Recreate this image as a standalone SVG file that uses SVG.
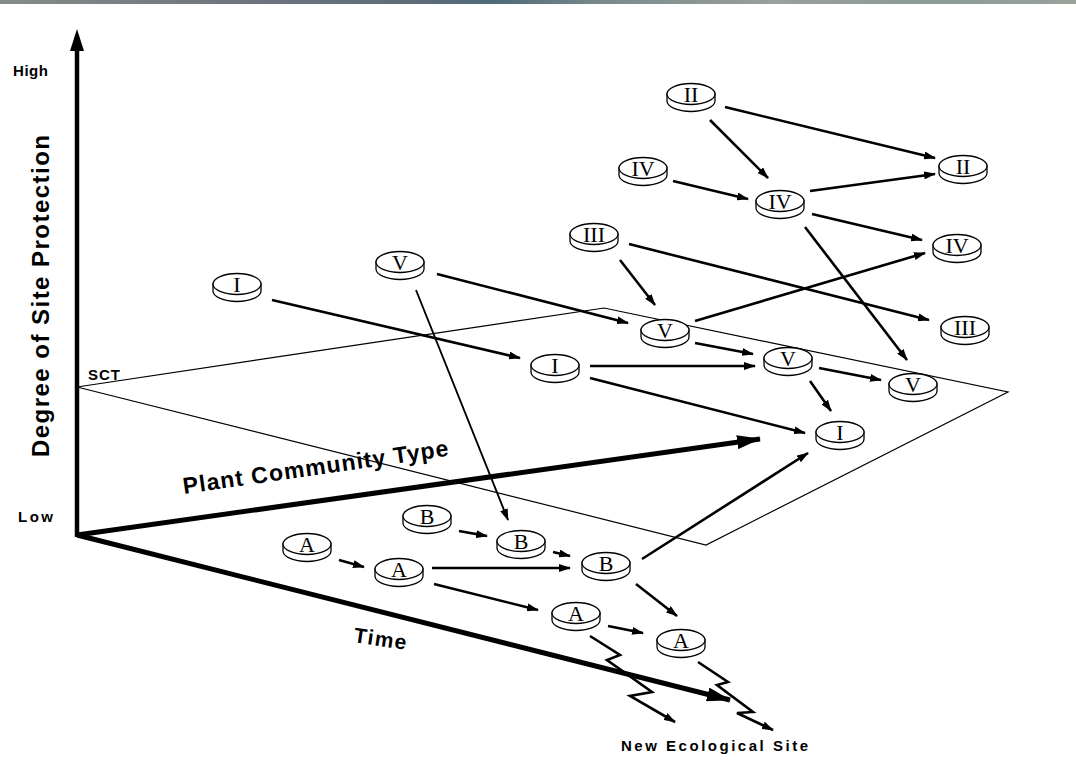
<svg xmlns="http://www.w3.org/2000/svg" xmlns:xlink="http://www.w3.org/1999/xlink" width="1076" height="782" viewBox="0 0 1076 782">
<style>
.lbl{font-family:"Liberation Sans",Arial,sans-serif;font-weight:bold;fill:#000}
.nt{font-family:"Liberation Serif","Times New Roman",serif;font-size:22px;text-anchor:middle;fill:#000}
.c{stroke:#000;stroke-width:2.6;fill:none;marker-end:url(#ah)}
.thin{stroke-width:1.9}
.plane{stroke:#000;stroke-width:1.2;fill:none}
.axis{stroke:#000;stroke-width:5;fill:none}
.coin{fill:#fff;stroke:#000;stroke-width:1.3}
</style>
<defs>
<linearGradient id="bar" x1="0" y1="0" x2="1" y2="0">
<stop offset="0" stop-color="#838d88"/>
<stop offset="0.2" stop-color="#707780"/>
<stop offset="0.4" stop-color="#5c6b79"/>
<stop offset="0.46" stop-color="#4d6b78"/>
<stop offset="0.56" stop-color="#7a8a8c"/>
<stop offset="0.72" stop-color="#98a19c"/>
<stop offset="0.86" stop-color="#8c9a98"/>
<stop offset="1" stop-color="#97a29a"/>
</linearGradient>
<marker id="ah" viewBox="0 0 12 8" refX="11" refY="4" markerWidth="12" markerHeight="8" markerUnits="userSpaceOnUse" orient="auto">
<path d="M0,0 L12,4 L0,8 z" fill="#000"/>
</marker>
<marker id="big" viewBox="0 0 24 14" refX="23" refY="7" markerWidth="24" markerHeight="14" markerUnits="userSpaceOnUse" orient="auto">
<path d="M0,0 L24,7 L0,14 z" fill="#000"/>
</marker>
<g id="coin">
<path class="coin" d="M-24,0 L-24,7 A24 10.5 0 0 0 24,7 L24,0 z"/>
<ellipse class="coin" cx="0" cy="0" rx="24" ry="10.5"/>
</g>
</defs>
<rect x="0" y="0" width="1076" height="782" fill="#fff"/>
<rect x="0" y="0" width="1076" height="4" fill="url(#bar)"/>

<g id="plane">
<path class="plane" d="M77,387 L604,308 L1008,392 L706,545 Z"/>
</g>

<g id="axes">
<line x1="77" y1="537" x2="77" y2="48" stroke="#000" stroke-width="4.5"/>
<polygon points="77,29 70,51 84,51" fill="#000"/>
<line class="axis" x1="77" y1="535" x2="760" y2="439" marker-end="url(#big)"/>
<line class="axis" x1="77" y1="535" x2="730" y2="700" marker-end="url(#big)"/>
</g>

<g id="labels">
<text class="lbl" x="13" y="76" font-size="15" textLength="35">High</text>
<text class="lbl" x="18" y="522" font-size="15" textLength="35">Low</text>
<text class="lbl" x="88" y="380" font-size="15" textLength="32">SCT</text>
<text class="lbl" font-size="24" textLength="322" transform="translate(49,457) rotate(-90)">Degree of Site Protection</text>
<text class="lbl" font-size="23" textLength="268" transform="translate(184,494) rotate(-8.2)">Plant Community Type</text>
<text class="lbl" font-size="21" textLength="53" transform="translate(353,642) rotate(8.5)">Time</text>
<text class="lbl" x="621" y="751" font-size="15" textLength="187">New Ecological Site</text>
</g>

<g id="connectors">
<line class="c" x1="272" y1="300" x2="520" y2="358"/>
<line class="c" x1="437" y1="274" x2="628" y2="323"/>
<line class="c thin" x1="416" y1="290" x2="508" y2="520"/>
<line class="c" x1="725" y1="107" x2="935" y2="158"/>
<line class="c" x1="710" y1="120" x2="768" y2="178"/>
<line class="c" x1="673" y1="181" x2="748" y2="199"/>
<line class="c" x1="810" y1="191" x2="935" y2="174"/>
<line class="c" x1="812" y1="214" x2="922" y2="240"/>
<line class="c" x1="805" y1="227" x2="907" y2="360"/>
<line class="c" x1="620" y1="260" x2="655" y2="305"/>
<line class="c" x1="629" y1="244" x2="929" y2="320"/>
<line class="c" x1="695" y1="321" x2="925" y2="253"/>
<line class="c" x1="695" y1="343" x2="753" y2="354"/>
<line class="c" x1="590" y1="366" x2="755" y2="366"/>
<line class="c" x1="590" y1="378" x2="805" y2="433"/>
<line class="c" x1="819" y1="368" x2="881" y2="380"/>
<line class="c" x1="810" y1="381" x2="831" y2="411"/>
<line class="c" x1="642" y1="559" x2="808" y2="453"/>
<line class="c" x1="459" y1="531" x2="487" y2="536"/>
<line class="c" x1="339" y1="560" x2="364" y2="567"/>
<line class="c" x1="553" y1="552" x2="570" y2="556"/>
<line class="c" x1="432" y1="568" x2="570" y2="568"/>
<line class="c" x1="434" y1="584" x2="538" y2="610"/>
<line class="c" x1="636" y1="584" x2="677" y2="616"/>
<line class="c" x1="608" y1="626" x2="643" y2="633"/>
<polyline class="c" points="590,636 620,655 607,660 652,692 630,696 675,722"/>
<polyline class="c" points="698,662 728,682 717,685 753,712 737,713 773,730"/>
</g>

<g id="n-I1" transform="translate(237,284)"><use xlink:href="#coin"/><text class="nt" y="7.5">I</text></g>
<g id="n-V1" transform="translate(400,262)"><use xlink:href="#coin"/><text class="nt" y="7.5">V</text></g>
<g id="n-II1" transform="translate(691,94)"><use xlink:href="#coin"/><text class="nt" y="7.5">II</text></g>
<g id="n-II2" transform="translate(963,166)"><use xlink:href="#coin"/><text class="nt" y="7.5">II</text></g>
<g id="n-IV1" transform="translate(643,168)"><use xlink:href="#coin"/><text class="nt" y="7.5">IV</text></g>
<g id="n-IV2" transform="translate(780,201)"><use xlink:href="#coin"/><text class="nt" y="7.5">IV</text></g>
<g id="n-IV3" transform="translate(957,245)"><use xlink:href="#coin"/><text class="nt" y="7.5">IV</text></g>
<g id="n-III1" transform="translate(594,234)"><use xlink:href="#coin"/><text class="nt" y="7.5">III</text></g>
<g id="n-III2" transform="translate(965,327)"><use xlink:href="#coin"/><text class="nt" y="7.5">III</text></g>
<g id="n-V2" transform="translate(665,330)"><use xlink:href="#coin"/><text class="nt" y="7.5">V</text></g>
<g id="n-I2" transform="translate(555,365)"><use xlink:href="#coin"/><text class="nt" y="7.5">I</text></g>
<g id="n-V3" transform="translate(788,358)"><use xlink:href="#coin"/><text class="nt" y="7.5">V</text></g>
<g id="n-V4" transform="translate(913,384)"><use xlink:href="#coin"/><text class="nt" y="7.5">V</text></g>
<g id="n-I3" transform="translate(840,432)"><use xlink:href="#coin"/><text class="nt" y="7.5">I</text></g>
<g id="n-B1" transform="translate(427,516)"><use xlink:href="#coin"/><text class="nt" y="7.5">B</text></g>
<g id="n-B2" transform="translate(521,541)"><use xlink:href="#coin"/><text class="nt" y="7.5">B</text></g>
<g id="n-B3" transform="translate(606,563)"><use xlink:href="#coin"/><text class="nt" y="7.5">B</text></g>
<g id="n-A1" transform="translate(307,544)"><use xlink:href="#coin"/><text class="nt" y="7.5">A</text></g>
<g id="n-A2" transform="translate(399,569)"><use xlink:href="#coin"/><text class="nt" y="7.5">A</text></g>
<g id="n-A3" transform="translate(576,613)"><use xlink:href="#coin"/><text class="nt" y="7.5">A</text></g>
<g id="n-A4" transform="translate(681,640)"><use xlink:href="#coin"/><text class="nt" y="7.5">A</text></g>
</svg>
